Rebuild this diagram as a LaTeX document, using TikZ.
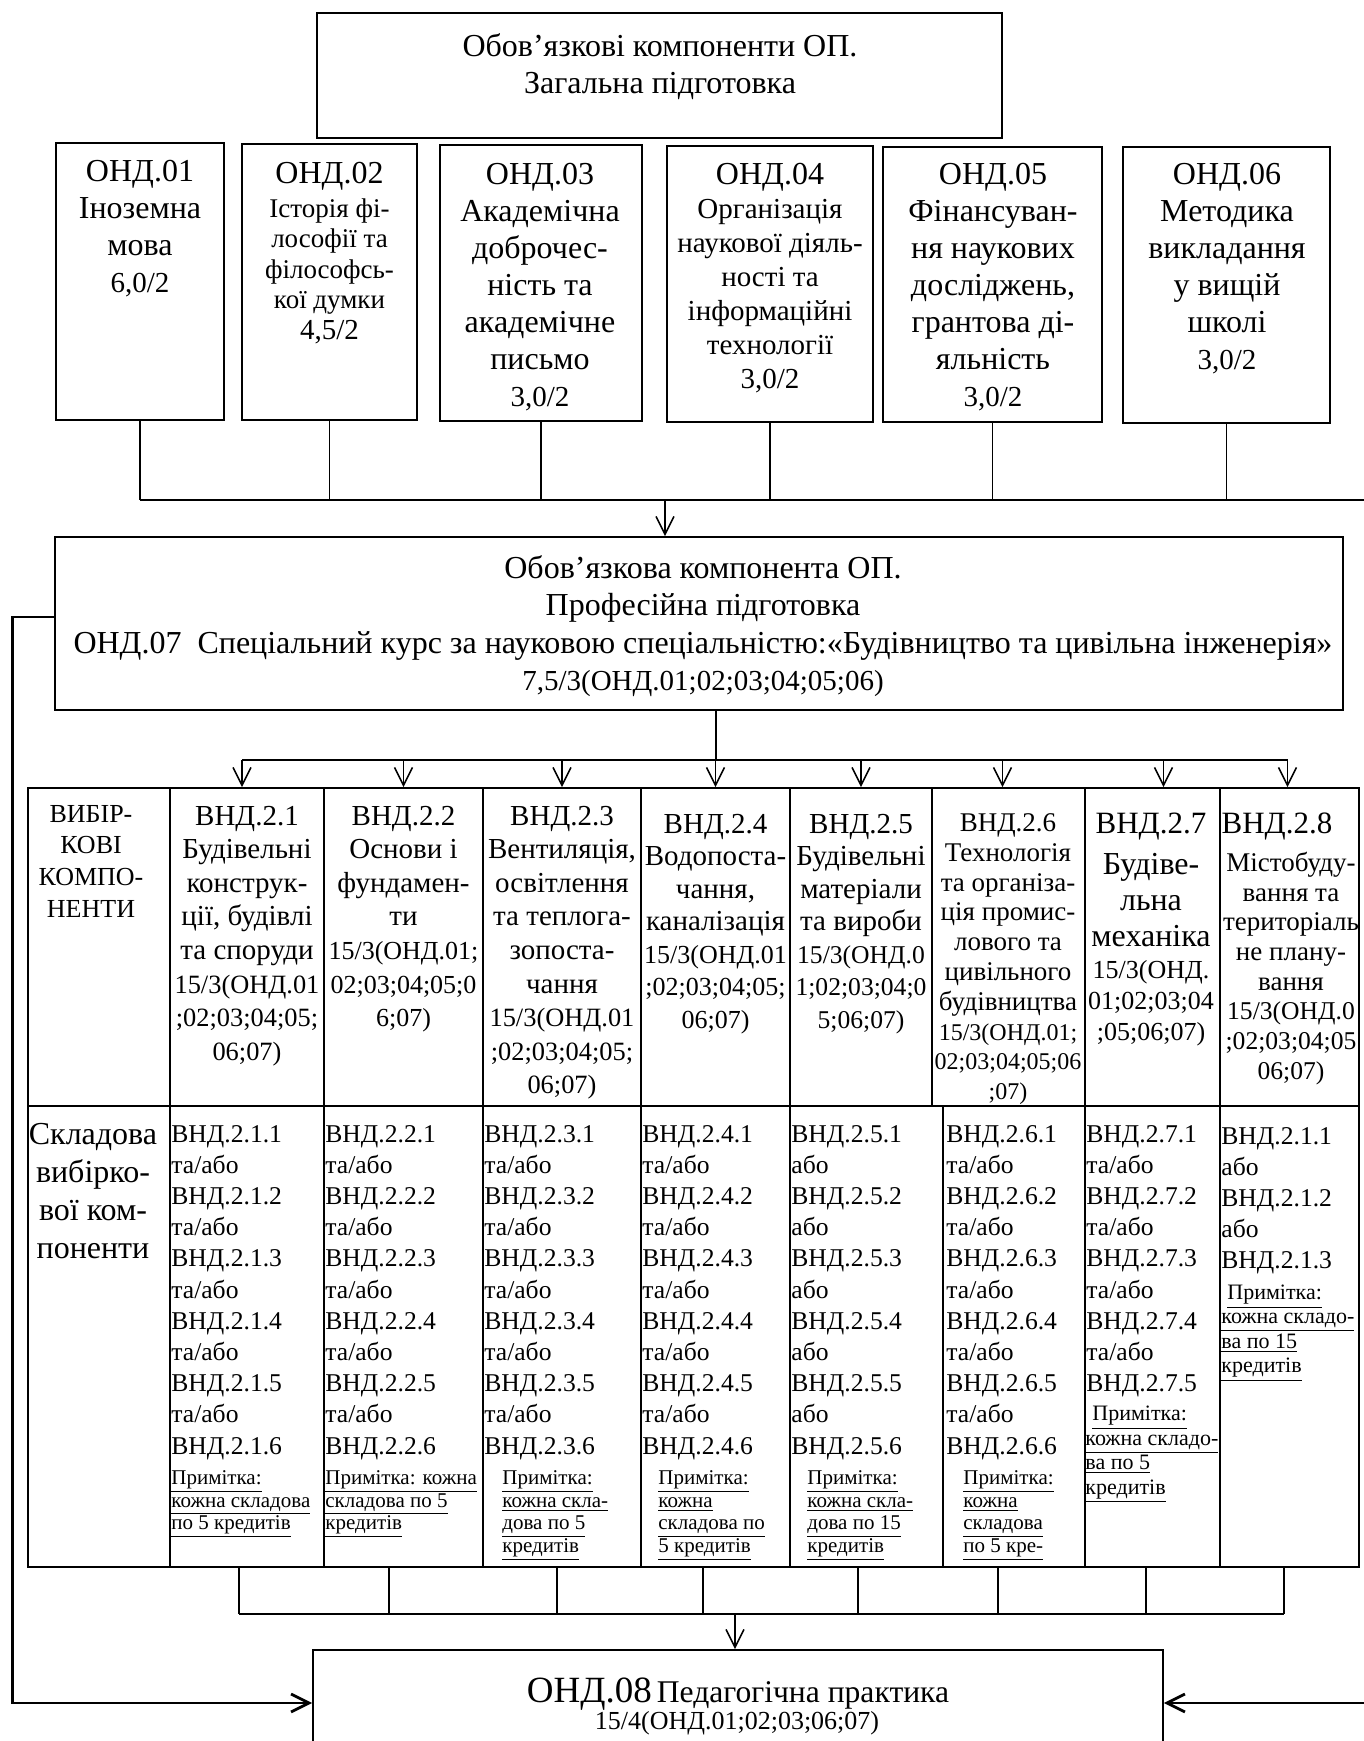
\documentclass[tikz,border=0pt]{standalone}
\usepackage{fontspec}
\setmainfont{Liberation Serif}
\usetikzlibrary{arrows.meta,fit,calc}
\newcommand\fs[2]{\fontsize{#1}{#2}\selectfont}
\newcommand\fl{\rule{0pt}{1em}}
\newcommand\uln[1]{\underline{#1}}
\newcommand\nsz[1]{\fontsize{#1}{\baselineskip}\selectfont}
\newcommand\vndsix[2]{\fl ВНД.#1.1\\#2\\ВНД.#1.2\\#2\\ВНД.#1.3\\#2\\ВНД.#1.4\\#2\\ВНД.#1.5\\#2\\ВНД.#1.6}
\begin{document}
\begin{tikzpicture}[x=0.5pt,y=-0.5pt,
  bx/.style={draw, line width=0.8pt, inner sep=0pt},
  txt/.style={inner sep=0pt, align=center, anchor=north},
  lst/.style={inner sep=0pt, align=left, anchor=north west},
  con/.style={line width=0.8pt},
  bus/.style={line width=1.4pt},
  arr/.style={line width=0.8pt, -{Straight Barb[length=9pt,width=9pt]}},
  tarr/.style={line width=1.4pt, -{Straight Barb[length=9pt,width=9pt]}}]
\useasboundingbox (0,0) rectangle (1364,1741);
\fill[white] (0,0) rectangle (1364,1741);

% ---------- boxes ----------
\node[bx, fit={(317,13)(1002,138)}] (T) {};
\node[bx, fit={(56,143)(224,420)}] (b01) {};
\node[bx, fit={(242,144)(417,420)}] (b02) {};
\node[bx, fit={(440,145)(642,421)}] (b03) {};
\node[bx, fit={(667,146)(873,422)}] (b04) {};
\node[bx, fit={(883,147)(1102,422)}] (b05) {};
\node[bx, fit={(1123,147)(1330,423)}] (b06) {};
\node[bx, fit={(55,537)(1343,710)}] (b07) {};
\node[bx, fit={(313,1650)(1163,1756)}] (b08) {};

% table cells
\node[bx, fit={(28,788)(170,1106)}] (h0) {};
\node[bx, fit={(170,788)(324,1106)}] (h1) {};
\node[bx, fit={(324,788)(483,1106)}] (h2) {};
\node[bx, fit={(483,788)(641,1106)}] (h3) {};
\node[bx, fit={(641,788)(790,1106)}] (h4) {};
\node[bx, fit={(790,788)(932,1106)}] (h5) {};
\node[bx, fit={(932,788)(1085,1106)}] (h6) {};
\node[bx, fit={(1085,788)(1220,1106)}] (h7) {};
\node[bx, fit={(1220,788)(1359,1106)}] (h8) {};
\node[bx, fit={(28,1106)(170,1567)}] (d0) {};
\node[bx, fit={(170,1106)(324,1567)}] (d1) {};
\node[bx, fit={(324,1106)(483,1567)}] (d2) {};
\node[bx, fit={(483,1106)(641,1567)}] (d3) {};
\node[bx, fit={(641,1106)(790,1567)}] (d4) {};
\node[bx, fit={(790,1106)(943,1567)}] (d5) {};
\node[bx, fit={(943,1106)(1085,1567)}] (d6) {};
\node[bx, fit={(1085,1106)(1220,1567)}] (d7) {};
\node[bx, fit={(1220,1106)(1359,1567)}] (d8) {};

% ---------- texts ----------
\node[txt, font=\fs{16}{18.5}] (tT) at (660,23.6) {\fl Обов’язкові компоненти ОП.\\Загальна підготовка};
\node[txt, font=\fs{16}{18.5}] (t01) at (140,149) {\fl ОНД.01\\Іноземна\\мова\\\nsz{14.5}6,0/2};
\node[txt, font=\fs{16}{18.5}] (t02a) at (329.5,150.6) {\fl ОНД.02};
\node[txt, font=\fs{13.5}{15.25}] (t02b) at (329.5,190) {\fl Історія фі-\\лософії та\\філософсь-\\кої думки\\\nsz{14.5}4,5/2};
\node[txt, font=\fs{16}{18.5}] (t03) at (540,151.6) {\fl ОНД.03\\Академічна\\доброчес-\\ність та\\академічне\\письмо\\\nsz{14.5}3,0/2};
\node[txt, font=\fs{16}{18.5}] (t04a) at (770,151.6) {\fl ОНД.04};
\node[txt, font=\fs{14.5}{17}] (t04b) at (770,188.6) {\fl Організація\\наукової діяль-\\ності та\\інформаційні\\технології\\3,0/2};
\node[txt, font=\fs{16}{18.5}] (t05) at (993,151.6) {\fl ОНД.05\\Фінансуван-\\ня наукових\\досліджень,\\грантова ді-\\яльність\\\nsz{14.5}3,0/2};
\node[txt, font=\fs{16}{18.5}] (t06) at (1227,151.6) {\fl ОНД.06\\Методика\\викладання\\у вищій\\школі\\\nsz{14.5}3,0/2};

\node[txt, font=\fs{16}{18.8}] (t07) at (703,545.6) {\fl Обов’язкова компонента ОП.\\Професійна підготовка\\ОНД.07\ \ Спеціальний курс за науковою спеціальністю:«Будівництво та цивільна інженерія»\\\nsz{14.5}7,5/3(ОНД.01;02;03;04;05;06)};

\node[anchor=base, inner sep=0pt] (t08a) at (738,1702) {{\fs{18.5}{20}ОНД.08} {\fs{15.8}{17}Педагогічна практика}};
\node[anchor=base, inner sep=0pt, font=\fs{13}{15}] (t08b) at (737,1729) {15/4(ОНД.01;02;03;06;07)};

% table header row
\node[txt, font=\fs{13}{15.85}] (th0) at (91,795.6) {\fl ВИБІР-\\КОВІ\\КОМПО-\\НЕНТИ};
\node[txt, font=\fs{14.5}{16.8}] (th1) at (247,795.6) {\fl ВНД.2.1\\Будівельні\\конструк-\\ції, будівлі\\та споруди\\\nsz{13.2}15/3(ОНД.01\\\nsz{13.2};02;03;04;05;\\\nsz{13.2}06;07)};
\node[txt, font=\fs{14.5}{16.8}] (th2) at (403.5,795.6) {\fl ВНД.2.2\\Основи і\\фундамен-\\ти\\\nsz{13}15/3(ОНД.01;\\\nsz{13}02;03;04;05;0\\\nsz{13}6;07)};
\node[txt, font=\fs{14.5}{16.8}] (th3) at (562,795.6) {\fl ВНД.2.3\\Вентиляція,\\освітлення\\та теплога-\\зопоста-\\чання\\\nsz{13.2}15/3(ОНД.01\\\nsz{13.2};02;03;04;05;\\\nsz{13.2}06;07)};
\node[txt, font=\fs{14.5}{16.25}] (th4) at (715.5,803.6) {\fl ВНД.2.4\\Водопоста-\\чання,\\каналізація\\\nsz{13}15/3(ОНД.01\\\nsz{13};02;03;04;05;\\\nsz{13}06;07)};
\node[txt, font=\fs{14.5}{16.25}] (th5) at (861,803.6) {\fl ВНД.2.5\\Будівельні\\матеріали\\та вироби\\\nsz{12.8}15/3(ОНД.0\\\nsz{12.8}1;02;03;04;0\\\nsz{12.8}5;06;07)};
\node[txt, font=\fs{13.5}{14.9}] (th6) at (1008,804) {\fl ВНД.2.6\\Технологія\\та організа-\\ція промис-\\лового та\\цивільного\\будівництва\\\nsz{12}15/3(ОНД.01;\\\nsz{12}02;03;04;05;06\\\nsz{12};07)};
\node[txt, font=\fs{15.5}{17}] (th7a) at (1151,802) {\fl ВНД.2.7};
\node[txt, font=\fs{16}{18}] (th7b) at (1151,841.6) {\fl Будіве-\\льна\\механіка};
\node[txt, font=\fs{13}{15.5}] (th7c) at (1151,952) {\fl 15/3(ОНД.\\01;02;03;04\\;05;06;07)};
\node[txt, font=\fs{15.5}{17}] (th8a) at (1277,802) {\fl ВНД.2.8};
\node[txt, font=\fs{13.5}{14.85}] (th8b) at (1291,844) {\fl Містобуду-\\вання та\\територіаль\\не плану-\\вання\\\nsz{12.8}15/3(ОНД.0\\\nsz{12.8};02;03;04;05\\\nsz{12.8}06;07)};

% table body row
\node[txt, font=\fs{16}{19}] (tb0) at (93,1111.6) {\fl Складова\\вибірко-\\вої ком-\\поненти};
\node[lst, font=\fs{12.8}{15.6}] (l1) at (171,1116) {\vndsix{2.1}{та/або}};
\node[lst, font=\fs{12.8}{15.6}] (l2) at (325,1116) {\vndsix{2.2}{та/або}};
\node[lst, font=\fs{12.8}{15.6}] (l3) at (484,1116) {\vndsix{2.3}{та/або}};
\node[lst, font=\fs{12.8}{15.6}] (l4) at (642,1116) {\vndsix{2.4}{та/або}};
\node[lst, font=\fs{12.8}{15.6}] (l5) at (791,1116) {\vndsix{2.5}{або}};
\node[lst, font=\fs{12.8}{15.6}] (l6) at (946,1116) {\vndsix{2.6}{та/або}};
\node[lst, font=\fs{12.8}{15.6}] (l7) at (1086,1116) {\fl ВНД.2.7.1\\та/або\\ВНД.2.7.2\\та/або\\ВНД.2.7.3\\та/або\\ВНД.2.7.4\\та/або\\ВНД.2.7.5};
\node[lst, font=\fs{12.8}{15.6}] (l8) at (1221,1118) {\fl ВНД.2.1.1\\або\\ВНД.2.1.2\\або\\ВНД.2.1.3};

\node[lst, font=\fs{10.5}{11.3}] (n1) at (171,1463) {\fl\uln{Примітка:}\\\uln{кожна складова}\\\uln{по 5 кредитів}};
\node[lst, font=\fs{10.5}{11.3}] (n2) at (325,1463) {\fl\uln{Примітка: кожна}\\\uln{складова по 5}\\\uln{кредитів}};
\node[lst, font=\fs{10.5}{11.3}] (n3) at (502,1463) {\fl\uln{Примітка:}\\\uln{кожна скла-}\\\uln{дова по 5}\\\uln{кредитів}};
\node[lst, font=\fs{10.5}{11.3}] (n4) at (658,1463) {\fl\uln{Примітка:}\\\uln{кожна}\\\uln{складова по}\\\uln{5 кредитів}};
\node[lst, font=\fs{10.5}{11.3}] (n5) at (807,1463) {\fl\uln{Примітка:}\\\uln{кожна скла-}\\\uln{дова по 15}\\\uln{кредитів}};
\node[lst, font=\fs{10.5}{11.3}] (n6) at (963,1463) {\fl\uln{Примітка:}\\\uln{кожна}\\\uln{складова}\\\uln{по 5 кре-}};
\node[lst, font=\fs{11}{12.3}] (n7) at (1085,1398) {\fl\hspace{3.5pt}\uln{Примітка:}\\\uln{кожна складо-}\\\uln{ва по 5}\\\uln{кредитів}};
\node[lst, font=\fs{11}{12.2}] (n8) at (1221,1277) {\fl\hspace{3pt}\uln{Примітка:}\\\uln{кожна складо-}\\\uln{ва по 15}\\\uln{кредитів}};

% ---------- connectors ----------
\coordinate (bus1) at (665,500);
\coordinate (bus2) at (716,760);
\coordinate (bus3) at (735,1614);
\foreach \b in {b01,b02,b03,b04,b05,b06}{
  \draw[con] (\b.south) -- (\b.south |- bus1);
}
\draw[tarr] (b01.south |- bus1) -- (1380,500) |- (b08.east);
\draw[arr] (bus1) -- (bus1 |- b07.north);
\draw[tarr] ([yshift=3.25pt]b07.west) -- ++(-42,0) |- (b08.west);
\draw[con] ([xshift=8.5pt]b07.south) -- (bus2);
\draw[bus] ([xshift=-2.5pt]h1.north |- bus2) -- ([xshift=-1pt]h8.north |- bus2);
\draw[arr] ([xshift=-2.5pt]h1.north |- bus2) -- ([xshift=-2.5pt]h1.north);
\draw[arr] (h2.north |- bus2) -- (h2.north);
\draw[arr] (h3.north |- bus2) -- (h3.north);
\draw[arr] (h4.north |- bus2) -- (h4.north);
\draw[arr] (h5.north |- bus2) -- (h5.north);
\draw[arr] ([xshift=-3pt]h6.north |- bus2) -- ([xshift=-3pt]h6.north);
\draw[arr] ([xshift=5.5pt]h7.north |- bus2) -- ([xshift=5.5pt]h7.north);
\draw[arr] ([xshift=-1pt]h8.north |- bus2) -- ([xshift=-1pt]h8.north);

\draw[con] ([xshift=-4pt]d1.south) -- ([xshift=-4pt]d1.south |- bus3);
\draw[con] ([xshift=-7.25pt]d2.south) -- ([xshift=-7.25pt]d2.south |- bus3);
\draw[con] ([xshift=-2.5pt]d3.south) -- ([xshift=-2.5pt]d3.south |- bus3);
\draw[con] ([xshift=-6.25pt]d4.south) -- ([xshift=-6.25pt]d4.south |- bus3);
\draw[con] ([xshift=-4.25pt]d5.south) -- ([xshift=-4.25pt]d5.south |- bus3);
\draw[con] ([xshift=-8pt]d6.south) -- ([xshift=-8pt]d6.south |- bus3);
\draw[con] ([xshift=-3.25pt]d7.south) -- ([xshift=-3.25pt]d7.south |- bus3);
\draw[con] ([xshift=-2.75pt]d8.south) -- ([xshift=-2.75pt]d8.south |- bus3);
\draw[bus] ([xshift=-4pt]d1.south |- bus3) -- ([xshift=-2.75pt]d8.south |- bus3);
\draw[arr] (bus3) -- (bus3 |- b08.north);
\end{tikzpicture}
\end{document}
